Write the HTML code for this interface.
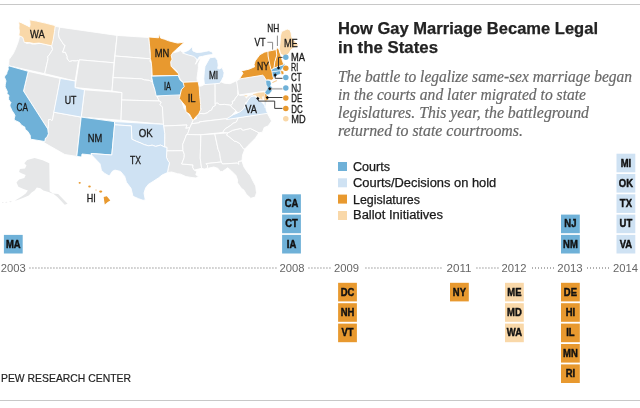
<!DOCTYPE html>
<html><head><meta charset="utf-8"><title>How Gay Marriage Became Legal in the States</title>
<style>
html,body{margin:0;padding:0;background:#fff}
svg{display:block}
text{font-family:"Liberation Sans",sans-serif}
.t{font-weight:bold;font-size:17px;fill:#222;stroke:#222;stroke-width:.25px}
.s{font-family:"Liberation Serif",serif;font-style:italic;font-size:16.5px;fill:#686868;stroke:#686868;stroke-width:.2px}
.l{font-size:10.5px;fill:#1a1a1a;stroke:#1a1a1a;stroke-width:.3px}
.lg{font-size:12px;fill:#1a1a1a;stroke:#1a1a1a;stroke-width:.25px}
.y{font-size:11px;fill:#666}
.b{font-size:10.5px;font-weight:bold;fill:#111;text-anchor:middle;stroke:#111;stroke-width:.45px}
.pew{font-size:11.5px;fill:#222;stroke:#222;stroke-width:.2px}
</style></head><body>
<svg width="640" height="408" viewBox="0 0 640 408">
<rect width="640" height="408" fill="#fff"/>
<rect x="0" y="4" width="640" height="1" fill="#c8c8c8"/>
<rect x="0" y="400" width="640" height="1" fill="#c8c8c8"/>
<g stroke="#fff" stroke-width="0.9" stroke-linejoin="round">
<path d="M19.3 35.8L21.8 36.1L23.2 37.1L24.8 39.8L24.6 42.0L26.5 43.4L30.4 42.9L31.5 44.0L34.7 44.1L39.0 43.4L41.9 43.5L51.5 45.8L52.0 47.0L52.6 49.7L51.5 51.3L50.2 53.6L47.7 56.8L48.1 58.7L47.5 61.2L44.7 73.7L8.6 65.8L8.8 62.1L9.0 59.6L13.3 53.6L15.8 48.1L18.3 41.6L19.5 36.3Z" fill="#e6e7e8"/>
<path d="M28.2 71.3L60.3 78.4L52.7 119.2L51.9 120.7L50.6 119.4L48.6 119.6L48.4 121.4L48.5 124.1L48.3 127.9L47.8 129.0L23.5 91.0Z" fill="#e6e7e8"/>
<path d="M54.7 26.1L59.7 27.2L58.4 33.9L59.3 37.8L62.2 42.2L63.8 44.8L65.1 45.2L63.5 50.0L62.6 52.1L65.4 52.3L67.3 56.8L67.0 58.0L68.7 60.8L69.3 61.4L72.3 60.6L76.3 60.8L77.2 60.2L78.4 61.2L75.2 81.0L44.7 73.7L47.5 61.2L48.1 58.7L47.7 56.8L50.2 53.6L51.5 51.3L52.6 49.7L52.0 47.0L51.5 45.8L51.5 42.8Z" fill="#e6e7e8"/>
<path d="M59.7 27.2L58.4 33.9L59.3 37.8L62.2 42.2L63.8 44.8L65.1 45.2L63.5 50.0L62.6 52.1L65.4 52.3L67.3 56.8L67.0 58.0L68.7 60.8L69.3 61.4L72.3 60.6L76.3 60.8L77.2 60.2L78.4 61.2L79.3 59.8L114.0 62.8L117.1 35.4Z" fill="#e6e7e8"/>
<path d="M79.3 59.8L114.0 62.8L112.0 91.0L75.0 87.6Z" fill="#e6e7e8"/>
<path d="M84.5 89.8L122.0 92.6L121.0 120.3L81.2 117.1Z" fill="#e6e7e8"/>
<path d="M53.8 112.2L81.2 117.1L76.8 156.4L64.8 154.5L43.9 142.6L44.7 141.5L45.5 138.0L46.7 137.5L47.8 135.2L48.4 133.6L47.9 130.4L47.8 129.0L48.3 127.9L48.5 124.1L48.4 121.4L48.6 119.6L50.6 119.4L51.9 120.7L52.7 119.2Z" fill="#e6e7e8"/>
<path d="M117.1 35.4L149.1 37.5L149.4 41.7L149.4 45.0L150.0 48.7L150.1 52.4L150.8 56.6L151.0 58.9L115.0 56.0Z" fill="#e6e7e8"/>
<path d="M115.0 56.0L151.0 58.9L149.7 61.0L151.7 63.3L152.2 75.5L151.4 75.5L151.7 78.1L152.3 82.0L150.9 81.3L149.3 80.4L144.5 79.9L141.3 78.8L113.1 77.6Z" fill="#e6e7e8"/>
<path d="M113.1 77.6L141.3 78.8L144.5 79.9L149.3 80.4L150.9 81.3L152.3 82.0L153.4 85.5L154.8 89.2L156.1 91.4L156.5 93.8L157.0 96.4L158.4 99.1L159.3 101.0L121.7 100.0L122.0 92.6L112.0 91.0Z" fill="#e6e7e8"/>
<path d="M121.7 100.0L159.3 101.0L161.3 102.1L160.0 104.6L162.5 107.0L163.5 124.3L121.0 120.3Z" fill="#e6e7e8"/>
<path d="M157.0 96.4L178.9 92.2L180.4 94.0L180.7 98.1L181.5 100.5L184.2 108.8L186.3 110.5L187.5 112.5L191.3 118.1L193.4 119.5L191.7 123.7L189.8 127.7L185.7 128.3L187.0 125.0L163.6 126.0L162.4 107.0L160.0 104.6L161.3 102.1L159.3 101.0L158.4 99.1L157.0 96.4Z" fill="#e6e7e8"/>
<path d="M163.6 126.0L187.0 125.0L185.7 128.3L189.8 127.7L187.7 133.8L186.5 134.5L185.1 138.5L182.7 144.4L183.0 150.7L166.6 150.9L166.9 147.4L164.6 147.0L164.7 133.4Z" fill="#e6e7e8"/>
<path d="M166.6 150.9L183.0 150.7L184.3 154.3L184.1 157.7L181.7 164.0L193.0 164.9L192.8 167.5L194.3 170.1L196.9 171.4L195.8 174.7L198.5 176.6L196.0 178.0L190.9 177.4L185.8 176.5L180.7 174.2L177.5 173.7L171.7 172.0L167.5 172.5L168.2 168.4L168.5 167.1L169.5 162.8L167.9 160.6L166.5 157.4Z" fill="#e6e7e8"/>
<path d="M172.3 52.9L178.1 51.6L180.4 50.6L183.6 52.9L189.7 54.6L194.3 55.6L196.0 58.3L197.2 59.8L195.4 64.3L198.9 59.2L200.7 58.8L198.3 64.5L198.4 67.9L197.9 71.6L197.0 78.1L197.5 82.0L183.6 82.5L180.6 80.2L177.9 74.3L177.3 71.7L174.1 68.6L170.6 66.4L168.7 60.9L170.9 57.0L171.1 53.9L172.3 52.9Z" fill="#e6e7e8"/>
<path d="M198.6 86.5L201.8 85.8L205.5 83.8L215.1 82.0L215.2 103.5L215.4 105.6L212.8 106.9L211.7 109.9L208.7 111.4L207.7 112.8L203.9 113.8L200.8 113.4L197.8 114.3L199.5 111.5L201.3 108.8L200.2 107.8L200.1 105.0L198.6 86.5Z" fill="#e6e7e8"/>
<path d="M215.1 82.0L220.3 81.5L224.4 83.3L230.2 83.7L236.7 80.6L238.3 89.4L237.9 91.0L238.0 94.9L235.4 98.2L234.1 100.8L232.3 101.3L232.6 103.8L230.8 105.3L224.6 104.4L219.8 104.7L217.2 103.0L215.2 103.5Z" fill="#e6e7e8"/>
<path d="M193.4 119.5L196.4 118.6L196.2 116.7L197.8 114.3L200.8 113.4L203.9 113.8L207.7 112.8L208.7 111.4L211.7 109.9L212.8 106.9L215.4 105.6L215.2 103.5L217.2 103.0L219.8 104.7L224.6 104.4L230.8 105.3L231.5 106.9L236.0 110.7L229.2 118.3L199.3 121.9L199.4 122.8L191.7 123.7Z" fill="#e6e7e8"/>
<path d="M191.7 123.7L199.4 122.8L199.3 121.9L229.2 118.3L238.3 117.7L236.4 122.0L233.2 123.3L230.1 125.8L224.9 129.1L222.7 132.5L200.3 134.8L186.5 134.5L187.7 133.8L189.8 127.7Z" fill="#e6e7e8"/>
<path d="M186.5 134.5L200.3 134.8L200.9 135.6L200.2 158.0L201.6 168.3L194.3 170.1L192.8 167.5L193.0 164.9L181.7 164.0L184.1 157.7L184.3 154.3L183.0 150.7L182.7 144.4L185.1 138.5L186.5 134.5Z" fill="#e6e7e8"/>
<path d="M200.3 134.8L214.8 133.9L218.1 149.3L219.7 153.1L220.4 158.6L221.3 162.0L206.2 163.6L207.6 165.5L207.3 168.4L204.2 169.1L201.6 168.3L200.2 158.0L200.9 135.6L200.3 134.8Z" fill="#e6e7e8"/>
<path d="M214.8 133.9L228.0 132.8L226.6 135.1L229.0 136.6L234.3 141.1L236.1 141.4L239.8 143.5L243.5 148.8L244.9 148.9L242.6 155.0L242.0 161.0L238.6 161.5L238.7 164.5L237.5 163.1L222.4 164.0L221.3 162.0L220.4 158.6L219.7 153.1L218.1 149.3L214.8 133.9Z" fill="#e6e7e8"/>
<path d="M207.3 168.4L207.6 165.5L206.2 163.6L221.3 162.0L222.4 164.0L237.5 163.1L238.7 164.5L238.6 161.5L242.0 161.0L243.8 166.8L247.4 172.1L250.4 175.7L253.0 181.1L255.7 186.0L256.5 192.7L255.2 197.0L250.8 198.3L246.1 194.0L244.1 190.3L241.2 188.1L237.4 182.7L237.6 179.9L235.9 175.4L230.9 170.4L227.7 167.8L225.9 169.1L222.4 171.5L220.1 171.4L218.0 168.4L213.8 167.0Z" fill="#e6e7e8"/>
<path d="M228.0 132.8L232.5 130.3L241.2 128.3L241.2 129.1L243.1 130.2L250.4 128.4L259.0 132.8L255.5 138.1L251.2 142.5L247.4 146.2L244.9 148.9L243.5 148.8L239.8 143.5L236.1 141.4L234.3 141.1L229.0 136.6L226.6 135.1Z" fill="#e6e7e8"/>
<path d="M222.7 132.5L228.0 132.8L232.5 130.3L241.2 128.3L241.2 129.1L243.1 130.2L250.4 128.4L259.0 132.8L262.5 132.2L264.2 127.5L268.2 125.9L271.6 121.0L266.9 112.5L238.3 117.7L236.4 122.0L233.2 123.3L230.1 125.8L224.9 129.1Z" fill="#e6e7e8"/>
<path d="M230.8 105.3L232.6 103.8L232.3 101.3L234.1 100.8L235.4 98.2L238.0 94.9L237.9 91.0L238.3 89.4L239.8 95.4L245.5 95.0L246.1 98.2L249.1 95.4L252.1 94.7L253.9 94.9L254.6 96.3L254.1 97.4L251.5 96.3L251.4 97.5L249.5 100.4L248.2 102.7L245.9 102.2L245.1 105.6L244.3 110.0L240.1 112.5L238.0 113.1L236.0 110.7L231.5 106.9L230.8 105.3Z" fill="#e6e7e8"/>
<path d="M236.6 81.0L240.4 78.4L262.9 74.7L264.0 75.6L266.4 79.8L266.8 84.5L268.3 86.9L267.8 89.4L265.6 91.8L264.6 91.2L238.7 95.0Z" fill="#e6e7e8"/>
<path d="M18.5 21.7L19.1 25.0L18.9 28.1L19.4 31.6L18.8 35.5L22.8 37.4L23.5 39.7L24.3 42.4L28.9 42.6L33.8 43.5L39.1 43.1L45.2 44.4L51.7 45.8L53.2 39.7L54.5 31.7L55.3 25.6L45.4 23.1L36.6 21.1L29.6 19.8L30.1 24.6L29.5 27.0L27.8 25.9L21.7 22.9Z" fill="#f9d8a9"/>
<path d="M8.6 65.8L28.2 71.3L23.5 91.0L47.8 129.0L47.9 130.4L48.4 133.6L47.8 135.2L46.7 137.5L45.5 138.0L44.7 141.5L30.6 139.2L30.3 137.1L30.3 135.5L27.7 131.3L25.1 129.3L25.0 127.3L21.3 125.0L19.5 122.5L14.9 120.4L14.1 119.1L15.0 115.6L14.0 113.5L12.2 110.9L9.9 106.0L10.1 104.0L11.2 103.0L10.1 101.6L8.7 99.5L8.6 97.4L9.1 95.5L6.9 93.6L7.4 91.7L5.1 86.9L5.3 84.2L6.0 81.0L4.6 77.4L4.7 76.0L6.7 74.1L7.0 72.0L8.3 69.4L8.1 67.5Z" fill="#6fb1d8"/>
<path d="M60.3 78.4L75.2 81.0L75.0 87.6L84.5 89.8L81.2 117.1L53.8 112.2Z" fill="#cfe2f3"/>
<path d="M81.2 117.1L114.6 121.6L114.6 124.8L111.8 155.0L91.2 153.5L91.6 155.0L82.0 154.0L81.6 157.0L76.8 156.4Z" fill="#6fb1d8"/>
<path d="M114.6 121.6L163.5 124.3L163.6 126.0L164.7 133.4L164.6 147.0L160.6 145.1L155.7 146.4L152.2 145.2L148.5 145.8L144.2 144.6L140.0 142.7L136.5 141.4L131.8 139.2L131.3 125.9L114.6 124.8Z" fill="#cfe2f3"/>
<path d="M114.6 124.8L131.3 125.9L131.8 139.2L136.5 141.4L140.0 142.7L144.2 144.6L148.5 145.8L152.2 145.2L155.7 146.4L160.6 145.1L164.6 147.0L166.9 147.4L166.5 157.4L167.9 160.6L169.5 162.8L168.5 167.1L168.2 168.4L167.5 172.5L162.0 175.1L158.8 177.7L153.6 181.1L148.3 184.4L145.6 188.0L144.0 193.1L145.3 199.9L143.0 200.3L138.6 198.7L133.0 196.3L131.0 188.3L126.4 182.2L124.7 176.4L120.5 171.4L115.0 170.1L112.5 171.2L109.3 176.0L104.4 173.2L101.4 170.2L100.0 163.8L94.3 157.8L91.6 155.0L91.2 153.5L111.8 155.0Z" fill="#cfe2f3"/>
<path d="M148.8 37.0L149.4 43.9L150.2 51.8L150.4 58.6L151.2 61.9L151.8 67.7L152.2 75.9L179.2 75.4L178.1 73.4L174.1 69.4L171.1 66.2L170.7 61.9L172.0 59.2L171.2 55.3L172.8 52.8L175.4 50.2L180.0 46.2L183.9 42.6L183.7 42.2L177.7 43.1L173.9 42.2L168.6 40.8L164.7 39.3L160.5 38.0L159.5 34.4L159.0 34.4L158.5 37.8Z" fill="#e8992f"/>
<path d="M151.5 76.2L152.9 83.3L154.9 90.0L156.2 95.9L180.6 94.9L181.5 90.1L184.7 86.7L183.5 82.9L180.2 80.3L178.1 75.5Z" fill="#6fb1d8"/>
<path d="M183.9 82.2L183.3 83.1L184.2 86.5L181.4 89.7L180.3 94.4L179.3 98.6L182.2 102.1L185.4 106.0L186.0 112.0L189.4 114.0L192.9 120.5L196.0 116.7L198.7 114.0L200.6 109.8L200.6 104.4L199.8 96.5L199.2 87.1L198.1 81.7Z" fill="#e8992f"/>
<path d="M204.4 84.6L212.0 84.0L219.8 83.3L221.7 80.2L223.5 76.6L224.1 72.8L222.2 67.6L219.4 68.9L217.7 68.5L218.2 65.3L217.6 60.4L215.0 57.1L209.8 57.8L208.0 61.0L205.0 66.4L204.3 71.8L203.8 78.8Z" fill="#cfe2f3"/>
<path d="M182.7 53.1L188.8 55.1L193.4 56.3L195.7 57.9L197.2 60.2L199.2 56.9L202.6 56.3L207.9 55.1L213.1 54.5L212.3 52.1L208.9 50.7L205.3 51.4L201.2 52.2L196.7 52.5L192.9 50.9L192.2 46.8L192.1 46.7L188.6 50.2L182.7 52.8Z" fill="#cfe2f3"/>
<path d="M226.4 119.6L267.7 113.3L266.4 110.8L265.8 107.6L263.9 104.3L261.3 101.8L258.9 100.0L257.6 97.7L254.2 96.0L250.8 96.7L248.1 100.0L245.6 104.4L243.7 108.7L240.2 111.7L237.1 113.2L233.3 114.7L226.3 119.0Z" fill="#cfe2f3"/>
<path d="M264.9 108.0L264.5 101.4L266.2 100.1L265.7 104.7Z" fill="#cfe2f3" stroke-width=".4"/>
<path d="M252.6 94.3L253.4 93.9L258.7 92.5L264.8 92.0L265.3 97.0L266.3 100.3L266.5 102.5L264.3 100.8L263.4 96.5L262.4 96.8L262.7 100.0L260.7 99.2L258.5 96.8L257.3 97.3L255.6 95.4L253.4 95.3Z" fill="#f9d8a9" stroke-width=".4"/>
<path d="M264.9 93.8L266.4 93.9L267.5 97.1L268.4 99.7L266.0 100.4L265.1 97.1Z" fill="#e8992f" stroke-width=".4"/>
<path d="M265.8 79.9L270.2 80.6L271.2 83.8L270.4 86.0L272.2 87.2L271.8 91.0L269.2 94.2L266.6 94.8L264.9 92.3L267.2 89.2L267.6 87.0L266.2 84.6Z" fill="#6fb1d8" stroke-width=".4"/>
<path d="M239.7 78.9L262.8 75.2L263.6 75.9L266.2 80.1L268.0 79.8L272.1 80.3L273.5 78.5L272.7 74.9L272.2 72.4L271.6 69.0L270.7 64.9L269.9 61.0L269.0 55.9L268.3 51.2L264.4 52.2L259.8 54.8L255.2 60.9L254.1 64.6L254.6 66.8L248.9 69.2L241.2 70.9L243.0 73.2L239.6 78.7Z" fill="#e8992f"/>
<path d="M272.2 82.3L276.5 80.3L277.1 80.2L276.9 80.9L272.6 82.9Z" fill="#e8992f" stroke-width=".4"/>
<path d="M272.2 71.9L280.1 70.7L280.7 73.8L277.0 75.3L273.8 77.8L272.6 75.6Z" fill="#6fb1d8" stroke-width=".4"/>
<path d="M280.5 70.6L281.6 74.5L283.9 74.0L283.3 71.2Z" fill="#e8992f" stroke-width=".4"/>
<path d="M271.2 68.0L283.6 63.2L285.0 64.4L282.4 68.2L280.6 70.4L271.8 71.6Z" fill="#6fb1d8" stroke-width=".4"/>
<path d="M267.9 51.3L268.1 56.0L269.1 61.2L269.9 65.1L271.1 69.8L274.3 67.9L275.1 61.7L277.2 55.1L276.4 49.5Z" fill="#e8992f"/>
<path d="M277.0 47.4L276.1 50.0L276.8 55.1L274.9 61.5L273.9 68.1L283.9 64.6L282.6 61.5L280.6 54.9L279.1 49.8Z" fill="#e8992f"/>
<path d="M281.6 31.6L280.4 36.1L280.1 41.7L279.3 48.7L280.5 53.8L283.6 55.7L287.0 55.0L289.2 53.0L291.0 49.8L294.1 47.6L298.2 45.7L298.2 44.4L294.3 40.7L291.9 37.6L291.1 32.9L289.9 29.9L287.2 29.0Z" fill="#f9d8a9"/>
<path d="M244.1 95.3L247.3 94.9L247.3 96.2L245.0 96.6Z" fill="#f9d8a9" stroke-width=".4"/>
</g>
<!-- title -->
<text class="t" x="338" y="33.5" textLength="260" lengthAdjust="spacingAndGlyphs">How Gay Marriage Became Legal</text>
<text class="t" x="338" y="53.3" textLength="100" lengthAdjust="spacingAndGlyphs">in the States</text>
<text class="s" x="338" y="82" textLength="294" lengthAdjust="spacingAndGlyphs">The battle to legalize same-sex marriage began</text>
<text class="s" x="338" y="100" textLength="248" lengthAdjust="spacingAndGlyphs">in the courts and later migrated to state</text>
<text class="s" x="338" y="118" textLength="251" lengthAdjust="spacingAndGlyphs">legislatures. This year, the battleground</text>
<text class="s" x="338" y="136" textLength="185" lengthAdjust="spacingAndGlyphs">returned to state courtrooms.</text>
<!-- legend -->
<rect x="338" y="162" width="9" height="9" fill="#6fb1d8"/><text class="lg" x="353" y="170.5" textLength="37" lengthAdjust="spacingAndGlyphs">Courts</text>
<rect x="338" y="178.3" width="9" height="9" fill="#cfe2f3"/><text class="lg" x="353" y="187" textLength="143.3" lengthAdjust="spacingAndGlyphs">Courts/Decisions on hold</text>
<rect x="338" y="194.6" width="9" height="9" fill="#e8992f"/><text class="lg" x="353" y="203.5" textLength="67" lengthAdjust="spacingAndGlyphs">Legislatures</text>
<rect x="338" y="211" width="9" height="9" fill="#f9d8a9"/><text class="lg" x="353" y="219.4" textLength="90" lengthAdjust="spacingAndGlyphs">Ballot Initiatives</text>
<path d="M24.3 163.2L27.2 160.0L34.6 158.1L42.6 160.3L49.3 163.2L49.7 191.2L52.9 193.4L58.1 194.1L61.8 197.8L65.4 201.5L67.6 203.7L64.7 204.7L61.0 200.7L57.4 197.1L53.7 194.1L48.5 191.9L43.4 190.4L40.4 188.2L36.8 187.5L34.6 190.4L31.6 192.6L28.7 195.6L23.5 197.8L17.6 200.0L14.7 200.7L22.0 196.3L25.7 193.4L27.9 190.4L23.5 189.0L18.4 186.8L16.5 182.4L19.1 179.4L24.3 177.9L25.7 175.0L22.0 173.5L19.1 172.1L19.9 169.1L25.0 168.4L26.5 165.4Z" fill="#e6e7e8"/>
<g fill="#ededee"><ellipse cx="10.5" cy="201.6" rx="1.2" ry=".6"/><ellipse cx="6.3" cy="202.3" rx="1" ry=".5"/><ellipse cx="2.8" cy="202.4" rx=".8" ry=".5"/></g>
<g fill="#e8992f"><ellipse cx="79.7" cy="182.8" rx="1.1" ry="0.9"/><ellipse cx="89.5" cy="186.5" rx="1.3" ry="1"/><ellipse cx="96" cy="190" rx="0.7" ry="0.4"/><ellipse cx="100.7" cy="191.6" rx="1.6" ry="1.1"/><path d="M103.7 197L106.8 196.3L110.3 200.4L107.7 202.1L104.8 204.6L104.1 200.4Z"/></g>
<text class="l" x="30.1" y="37.8" textLength="14.7" lengthAdjust="spacingAndGlyphs">WA</text>
<text class="l" x="16.6" y="110.8" textLength="11.4" lengthAdjust="spacingAndGlyphs">CA</text>
<text class="l" x="64.7" y="103.8" textLength="11.7" lengthAdjust="spacingAndGlyphs">UT</text>
<text class="l" x="87.7" y="141.9" textLength="14.5" lengthAdjust="spacingAndGlyphs">NM</text>
<text class="l" x="138.7" y="136.8" textLength="14.0" lengthAdjust="spacingAndGlyphs">OK</text>
<text class="l" x="130.1" y="163.6" textLength="10.9" lengthAdjust="spacingAndGlyphs">TX</text>
<text class="l" x="86.7" y="201.5" textLength="9.0" lengthAdjust="spacingAndGlyphs">HI</text>
<text class="l" x="154.8" y="57.4" textLength="14.6" lengthAdjust="spacingAndGlyphs">MN</text>
<text class="l" x="163.9" y="89.6" textLength="7.0" lengthAdjust="spacingAndGlyphs">IA</text>
<text class="l" x="187.7" y="101.8" textLength="8.0" lengthAdjust="spacingAndGlyphs">IL</text>
<text class="l" x="208.9" y="78.6" textLength="9.2" lengthAdjust="spacingAndGlyphs">MI</text>
<text class="l" x="257.0" y="69.6" textLength="12.0" lengthAdjust="spacingAndGlyphs">NY</text>
<text class="l" x="245.2" y="112.7" textLength="11.7" lengthAdjust="spacingAndGlyphs">VA</text>
<text class="l" x="254.6" y="45.6" textLength="11.0" lengthAdjust="spacingAndGlyphs">VT</text>
<text class="l" x="267.2" y="31.9" textLength="12.0" lengthAdjust="spacingAndGlyphs">NH</text>
<text class="l" x="283.9" y="46.8" textLength="13.9" lengthAdjust="spacingAndGlyphs">ME</text>
<text class="l" x="291.0" y="61.0" textLength="14.0" lengthAdjust="spacingAndGlyphs">MA</text>
<text class="l" x="291.0" y="71.0" textLength="7.2" lengthAdjust="spacingAndGlyphs">RI</text>
<text class="l" x="291.0" y="81.3" textLength="10.6" lengthAdjust="spacingAndGlyphs">CT</text>
<text class="l" x="291.2" y="91.8" textLength="10.0" lengthAdjust="spacingAndGlyphs">NJ</text>
<text class="l" x="291.2" y="102.3" textLength="11.0" lengthAdjust="spacingAndGlyphs">DE</text>
<text class="l" x="291.2" y="112.5" textLength="11.5" lengthAdjust="spacingAndGlyphs">DC</text>
<text class="l" x="291.2" y="122.6" textLength="14.4" lengthAdjust="spacingAndGlyphs">MD</text>
<g fill="none" stroke="#8a8a8a" stroke-width="1"><path d="M267.4 42.3H272.6V49.6"/><path d="M277.4 35.6V46"/></g>
<g fill="none" stroke="#2a2a2a" stroke-width=".9"><path d="M278.5 67.9V57.4H282.5"/><path d="M275.2 75V78.3H282.5"/><path d="M267.4 97.5H282.5"/><path d="M257.8 98.4L258.5 101.1H274.7V108.4H282.5"/></g>
<path d="M270.5 88.8H282.5" stroke="#bcbcbc" stroke-width="1.8" fill="none"/>
<path d="M278.5 66.2L280.2 67.9L278.5 69.6L276.8 67.9Z" fill="#111"/>
<path d="M275.2 73.3L276.9 75.0L275.2 76.7L273.5 75.0Z" fill="#111"/>
<path d="M269.8 87.0L271.5 88.7L269.8 90.4L268.1 88.7Z" fill="#111"/>
<path d="M267.4 95.9L269.1 97.6L267.4 99.3L265.7 97.6Z" fill="#111"/>
<path d="M257.8 96.7L259.5 98.4L257.8 100.1L256.1 98.4Z" fill="#111"/>
<circle cx="285.8" cy="57.3" r="2.75" fill="#6fb1d8"/>
<circle cx="285.8" cy="68.2" r="2.75" fill="#e8992f"/>
<circle cx="285.8" cy="77.4" r="2.75" fill="#6fb1d8"/>
<circle cx="285.8" cy="87.9" r="2.75" fill="#6fb1d8"/>
<circle cx="285.8" cy="98.1" r="2.75" fill="#e8992f"/>
<circle cx="285.8" cy="108.4" r="2.75" fill="#e8992f"/>
<circle cx="285.8" cy="118.7" r="2.75" fill="#f9d8a9"/>
<g stroke="#a8a8a8" stroke-width="2" stroke-dasharray=".9 2.1" fill="none">
<path d="M29.5 268H277.0"/>
<path d="M308.5 268H331.0"/>
<path d="M365.5 268H441.5"/>
<path d="M476.5 268H499.0"/>
<path d="M532.0 268H555.0"/>
<path d="M587.0 268H609.0"/>
</g>
<text class="y" x="0.7" y="271.8" textLength="25.0" lengthAdjust="spacingAndGlyphs">2003</text>
<text class="y" x="279.5" y="271.8" textLength="25.0" lengthAdjust="spacingAndGlyphs">2008</text>
<text class="y" x="334.0" y="271.8" textLength="25.0" lengthAdjust="spacingAndGlyphs">2009</text>
<text class="y" x="446.5" y="271.8" textLength="25.0" lengthAdjust="spacingAndGlyphs">2011</text>
<text class="y" x="501.5" y="271.8" textLength="25.0" lengthAdjust="spacingAndGlyphs">2012</text>
<text class="y" x="557.3" y="271.8" textLength="25.4" lengthAdjust="spacingAndGlyphs">2013</text>
<text class="y" x="613.0" y="271.8" textLength="25.0" lengthAdjust="spacingAndGlyphs">2014</text>
<rect x="3.9" y="234.9" width="18.8" height="18.6" fill="#6fb1d8"/><text class="b" transform="translate(13.3 247.7) scale(.9 1)">MA</text>
<rect x="282.1" y="234.9" width="18.8" height="18.6" fill="#6fb1d8"/><text class="b" transform="translate(291.5 247.7) scale(.9 1)">IA</text>
<rect x="282.1" y="214.6" width="18.8" height="18.6" fill="#6fb1d8"/><text class="b" transform="translate(291.5 227.4) scale(.9 1)">CT</text>
<rect x="282.1" y="194.3" width="18.8" height="18.6" fill="#6fb1d8"/><text class="b" transform="translate(291.5 207.1) scale(.9 1)">CA</text>
<rect x="561.0" y="234.9" width="18.8" height="18.6" fill="#6fb1d8"/><text class="b" transform="translate(570.4 247.7) scale(.9 1)">NM</text>
<rect x="561.0" y="214.6" width="18.8" height="18.6" fill="#6fb1d8"/><text class="b" transform="translate(570.4 227.4) scale(.9 1)">NJ</text>
<rect x="616.5" y="234.9" width="18.8" height="18.6" fill="#cfe2f3"/><text class="b" transform="translate(625.9 247.7) scale(.9 1)">VA</text>
<rect x="616.5" y="214.6" width="18.8" height="18.6" fill="#cfe2f3"/><text class="b" transform="translate(625.9 227.4) scale(.9 1)">UT</text>
<rect x="616.5" y="194.3" width="18.8" height="18.6" fill="#cfe2f3"/><text class="b" transform="translate(625.9 207.1) scale(.9 1)">TX</text>
<rect x="616.5" y="174.0" width="18.8" height="18.6" fill="#cfe2f3"/><text class="b" transform="translate(625.9 186.8) scale(.9 1)">OK</text>
<rect x="616.5" y="153.7" width="18.8" height="18.6" fill="#cfe2f3"/><text class="b" transform="translate(625.9 166.5) scale(.9 1)">MI</text>
<rect x="338.1" y="282.8" width="18.8" height="18.6" fill="#e8992f"/><text class="b" transform="translate(347.5 295.6) scale(.9 1)">DC</text>
<rect x="338.1" y="303.2" width="18.8" height="18.6" fill="#e8992f"/><text class="b" transform="translate(347.5 316.0) scale(.9 1)">NH</text>
<rect x="338.1" y="323.6" width="18.8" height="18.6" fill="#e8992f"/><text class="b" transform="translate(347.5 336.4) scale(.9 1)">VT</text>
<rect x="450.0" y="282.8" width="18.8" height="18.6" fill="#e8992f"/><text class="b" transform="translate(459.4 295.6) scale(.9 1)">NY</text>
<rect x="505.0" y="282.8" width="18.8" height="18.6" fill="#f9d8a9"/><text class="b" transform="translate(514.4 295.6) scale(.9 1)">ME</text>
<rect x="505.0" y="303.2" width="18.8" height="18.6" fill="#f9d8a9"/><text class="b" transform="translate(514.4 316.0) scale(.9 1)">MD</text>
<rect x="505.0" y="323.6" width="18.8" height="18.6" fill="#f9d8a9"/><text class="b" transform="translate(514.4 336.4) scale(.9 1)">WA</text>
<rect x="561.0" y="282.8" width="18.8" height="18.6" fill="#e8992f"/><text class="b" transform="translate(570.4 295.6) scale(.9 1)">DE</text>
<rect x="561.0" y="303.2" width="18.8" height="18.6" fill="#e8992f"/><text class="b" transform="translate(570.4 316.0) scale(.9 1)">HI</text>
<rect x="561.0" y="323.6" width="18.8" height="18.6" fill="#e8992f"/><text class="b" transform="translate(570.4 336.4) scale(.9 1)">IL</text>
<rect x="561.0" y="344.0" width="18.8" height="18.6" fill="#e8992f"/><text class="b" transform="translate(570.4 356.8) scale(.9 1)">MN</text>
<rect x="561.0" y="364.4" width="18.8" height="18.6" fill="#e8992f"/><text class="b" transform="translate(570.4 377.2) scale(.9 1)">RI</text>
<text class="pew" x="1" y="382" textLength="130" lengthAdjust="spacingAndGlyphs">PEW RESEARCH CENTER</text>
</svg>
</body></html>
